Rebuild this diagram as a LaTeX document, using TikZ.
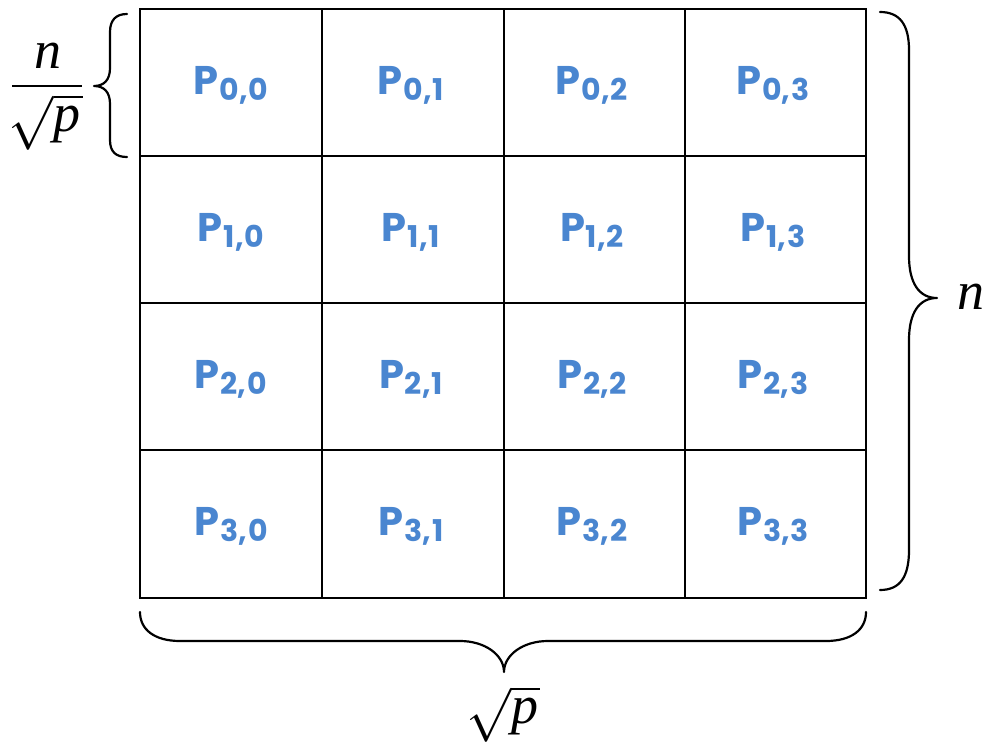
\documentclass[tikz,border=0pt]{standalone}
\usepackage{fix-cm}
\usepackage{exscale}
\usepackage{fontspec}
\setsansfont{Poppins}
\setmainfont{Liberation Serif}
\definecolor{pblue}{HTML}{4A86D0}
\tikzset{
  gridline/.style={line width=2.2pt, black},
  bracepath/.style={line width=2.2pt, black, line cap=round, line join=round},
  cell/.style={font=\sffamily\bfseries\fontsize{40}{40}\selectfont, text=pblue, inner sep=0pt},
  mathlbl/.style={font=\fontsize{54}{54}\selectfont, inner sep=0pt}
}
\newcommand{\plabel}[2]{P\kern1pt\raisebox{-6pt}{\fontsize{30}{30}\selectfont #1,\kern1pt#2}}
\begin{document}
\begin{tikzpicture}[x=1pt,y=-1pt]
\useasboundingbox (0,0) rectangle (988,746);
% grid
\draw[gridline] (140,9) rectangle (866,598);
\foreach \x in {322,504,685} \draw[gridline] (\x,9) -- (\x,598);
\foreach \y in {156,303,450} \draw[gridline] (140,\y) -- (866,\y);
% labels
\foreach \r/\yy in {0/85,1/232,2/379,3/526}{
  \foreach \c/\xx in {0/231,1/411,2/592,3/773}{
    \node[cell] (p\r\c) at (\xx,\yy) {\plabel{\r}{\c}};
  }
}
% right brace
\coordinate (rtop) at (880,12);
\coordinate (rtip) at (937,298);
\coordinate (rbot) at (880,590);
\draw[bracepath] (rtop) .. controls (900,12) and (909,25) .. (909,50) -- (909,256)
  .. controls (909,283) and (919,298) .. (rtip)
  .. controls (919,298) and (909,313) .. (909,340) -- (909,550)
  .. controls (909,577) and (900,590) .. (rbot);
\node[mathlbl, anchor=west] (nR) at (957,297) {\itshape n};
% left brace
\coordinate (ltop) at (127,14);
\coordinate (ltip) at (94,86);
\coordinate (lbot) at (127,157);
\draw[bracepath] (ltop) .. controls (116,14) and (110,20) .. (110,32) -- (110,68)
  .. controls (110,80) and (104,86) .. (ltip)
  .. controls (104,86) and (110,92) .. (110,104) -- (110,140)
  .. controls (110,152) and (116,157) .. (lbot);
\node[mathlbl] (nL) at (48,56) {\itshape n};
\coordinate (fa) at (12,86);
\coordinate (fb) at (82,86);
\draw[line width=2pt] (fa) -- (fb);
\node[mathlbl] (sL) at (46,122) {$\sqrt{\hbox{\itshape p\kern2pt}}$};
% bottom brace
\coordinate (bl) at (140,612);
\coordinate (btip) at (504,672);
\coordinate (br) at (866,612);
\draw[bracepath] (bl) .. controls (140,630) and (155,641) .. (180,641) -- (460,641)
  .. controls (485,641) and (504,655) .. (btip)
  .. controls (504,655) and (523,641) .. (548,641) -- (826,641)
  .. controls (851,641) and (866,630) .. (br);
\node[mathlbl] (sB) at (503,714) {$\sqrt{\hbox{\itshape p\kern2pt}}$};
\end{tikzpicture}
\end{document}
